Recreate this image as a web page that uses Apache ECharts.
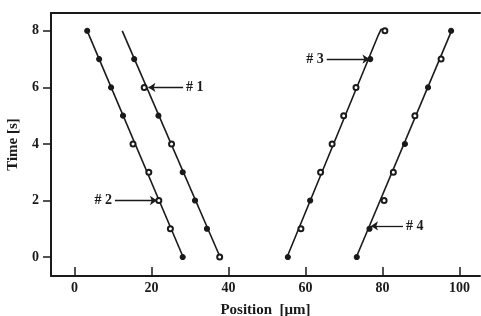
<!DOCTYPE html>
<html>
<head>
<meta charset="utf-8">
<script src="https://cdn.jsdelivr.net/npm/echarts@6/dist/echarts.min.js"></script>
<style>
  html, body { margin: 0; padding: 0; background: #fff; }
  #chart { width: 481px; height: 316px; }
</style>
</head>
<body>
<div id="chart"></div>
<script>
// time of each sample [s]
const times = [8, 7, 6, 5, 4, 3, 2, 1, 0];
// measured positions [um], null = no sample
const pos1 = [3.3, 6.4, 9.5, 12.6, 15.2, 19.3, 21.9, 24.9, 28.1];
const pos2 = [null, 15.5, 18.1, 21.8, 25.2, 28.1, 31.3, 34.4, 37.7];
const pos3 = [80.6, 76.8, 73.1, 69.9, 66.9, 63.9, 61.2, 58.8, 55.4];
const pos4 = [97.8, 95.2, 91.8, 88.4, 85.8, 82.8, 80.4, 76.6, 73.3];
// 1 = filled dot, 0 = open circle
const filled1 = [1, 1, 1, 1, 0, 0, 0, 0, 1];
const filled2 = [0, 1, 0, 1, 0, 1, 1, 1, 0];
const filled3 = [0, 1, 0, 0, 0, 0, 1, 0, 1];
const filled4 = [1, 0, 1, 0, 1, 0, 0, 1, 1];
// fitted lines [position, time]
const fit1 = [[3.3, 8], [28.2, 0]];
const fit2 = [[12.4, 8], [37.8, 0]];
const fit3 = [[55.2, 0], [78.9, 7.85], [79.6, 8.05], [80.6, 8.05]];
const fit4 = [[73.2, 0], [97.9, 8]];
// labels with arrows: [text, time, tail x, head x]
const arrows = [
  ['# 1', 6, 28.2, 19.2],
  ['# 2', 2, 10.5, 21.4],
  ['# 3', 7, 65.5, 76.6],
  ['# 4', 1.1, 85.3, 77.0]
];
const xTicks = [0, 20, 40, 60, 80, 100];
const yTicks = [0, 2, 4, 6, 8];

const ink = '#1a1a1a';
const serif = 'Liberation Serif';

function points(pos, fill) {
  const out = [];
  times.forEach((t, i) => {
    if (pos[i] == null) return;
    out.push({
      value: [pos[i], t],
      symbol: fill[i] ? 'circle' : 'emptyCircle'
    });
  });
  return out;
}

function fitLine(d) {
  return {
    type: 'line', data: d, symbol: 'none', smooth: false,
    lineStyle: { color: ink, width: 1.6 }, z: 2, silent: true
  };
}

function scatter(d) {
  return {
    type: 'scatter', data: d, symbolSize: 5, z: 3,
    itemStyle: { color: ink, borderColor: ink, borderWidth: 1.1, opacity: 1 }
  };
}

const chart = echarts.init(document.getElementById('chart'), null, { renderer: 'canvas' });

const option = {
  animation: false,
  backgroundColor: '#fff',
  grid: { left: 51, top: 13, right: 1, bottom: 40, outerBoundsMode: 'none', containLabel: false },
  xAxis: [{
    type: 'value', min: -6.1, max: 105.3,
    name: 'Position  [\u03bcm]', nameLocation: 'middle', nameGap: 27,
    nameTextStyle: { fontFamily: serif, fontWeight: 'bold', fontSize: 15, color: ink },
    axisLine: { onZero: false, lineStyle: { color: ink, width: 2 } },
    axisTick: { inside: true, length: 9, customValues: xTicks, lineStyle: { color: ink, width: 1.5 } },
    axisLabel: { customValues: xTicks, margin: 5, fontFamily: serif, fontWeight: 'bold', fontSize: 14, color: ink },
    splitLine: { show: false }
  }, {
    type: 'value', position: 'top', min: -6.1, max: 105.3,
    axisLine: { show: true, onZero: false, lineStyle: { color: ink, width: 2 } },
    axisTick: { show: false }, axisLabel: { show: false }, splitLine: { show: false }
  }],
  yAxis: {
    type: 'value', min: -0.67, max: 8.63,
    name: 'Time [s]', nameLocation: 'middle', nameGap: 30, nameRotate: 90,
    nameTextStyle: { fontFamily: serif, fontWeight: 'bold', fontSize: 15, color: ink },
    axisLine: { show: true, onZero: false, lineStyle: { color: ink, width: 2 } },
    axisTick: { show: true, length: 8, customValues: yTicks, lineStyle: { color: ink, width: 1.5 } },
    axisLabel: { customValues: yTicks, margin: 12, fontFamily: serif, fontWeight: 'bold', fontSize: 14, color: ink },
    splitLine: { show: false }
  },
  series: [
    fitLine(fit1), fitLine(fit2), fitLine(fit3), fitLine(fit4),
    scatter(points(pos1, filled1)),
    scatter(points(pos2, filled2)),
    scatter(points(pos3, filled3)),
    scatter(points(pos4, filled4)),
    {
      type: 'line', data: [], silent: true,
      markLine: {
        silent: true, animation: false,
        symbol: ['none', 'arrow'], symbolSize: 7,
        lineStyle: { color: ink, width: 1.3, type: 'solid' },
        label: {
          show: true, position: 'start', distance: 3,
          fontFamily: serif, fontWeight: 'bold', fontSize: 14, color: ink,
          formatter: p => p.name
        },
        data: arrows.map(a => [
          { name: a[0], coord: [a[2], a[1]] },
          { coord: [a[3], a[1]] }
        ])
      }
    }
  ]
};

chart.setOption(option);
</script>
</body>
</html>
